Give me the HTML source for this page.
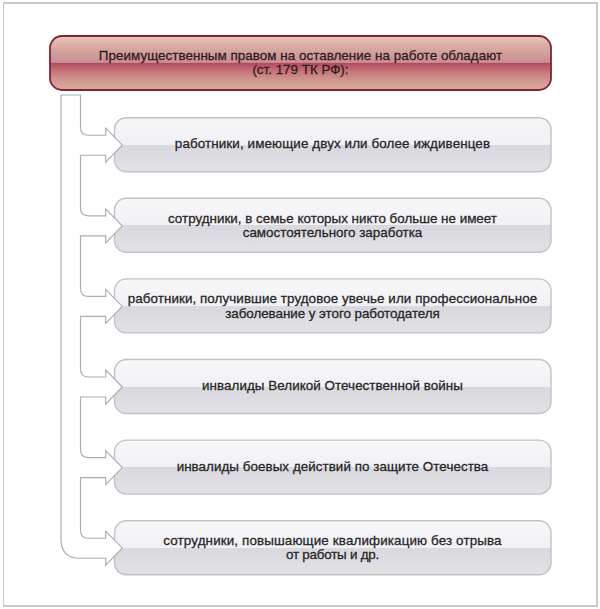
<!DOCTYPE html>
<html><head><meta charset="utf-8"><style>
html,body{margin:0;padding:0;background:#fff;}
body{width:600px;height:609px;overflow:hidden;position:relative;font-family:"Liberation Sans",sans-serif;}
svg{position:absolute;left:0;top:0}
.frame{position:absolute;left:3px;top:2px;width:592px;height:601px;border-style:solid;border-color:#c8cac8;border-width:2px 2px 2px 1px;}
.bt{position:absolute;left:114px;width:437px;height:54px;display:flex;align-items:center;justify-content:center;text-align:center;font-size:13.4px;line-height:14px;color:#262626;-webkit-text-stroke:0.28px #262626;}
.ht{position:absolute;left:50px;top:36px;width:501px;height:54px;display:flex;align-items:center;justify-content:center;text-align:center;font-size:13.4px;line-height:14px;color:#2e1c20;-webkit-text-stroke:0.28px #2e1c20;}
</style></head><body>
<div class="frame"></div>
<svg width="600" height="609" viewBox="0 0 600 609">
<defs>
<linearGradient id="g" x1="0" y1="0" x2="0" y2="1">
<stop offset="0" stop-color="#f7f6f9"/>
<stop offset="0.5" stop-color="#f1f0f4"/>
<stop offset="0.5" stop-color="#d9d8de"/>
<stop offset="1" stop-color="#e2e1e6"/>
</linearGradient>
<linearGradient id="h" x1="0" y1="0" x2="0" y2="1">
<stop offset="0" stop-color="#eccac2"/>
<stop offset="0.05" stop-color="#e6c0b6"/>
<stop offset="0.15" stop-color="#dcb0a4"/>
<stop offset="0.27" stop-color="#d4a49e"/>
<stop offset="0.49" stop-color="#cc8c94"/>
<stop offset="0.5" stop-color="#b04a5a"/>
<stop offset="0.56" stop-color="#bc5a68"/>
<stop offset="0.68" stop-color="#c87a80"/>
<stop offset="0.85" stop-color="#d49c94"/>
<stop offset="1" stop-color="#dca89c"/>
</linearGradient>
</defs>
<rect x="50" y="36" width="501" height="54" rx="12" fill="url(#h)" stroke="#7e2636" stroke-width="1.8"/>
<rect x="114.5" y="117.70" width="436.5" height="54" rx="12" fill="url(#g)" stroke="#c2c2c2" stroke-width="1.4"/>
<rect x="114.5" y="198.30" width="436.5" height="54" rx="12" fill="url(#g)" stroke="#c2c2c2" stroke-width="1.4"/>
<rect x="114.5" y="278.90" width="436.5" height="54" rx="12" fill="url(#g)" stroke="#c2c2c2" stroke-width="1.4"/>
<rect x="114.5" y="359.50" width="436.5" height="54" rx="12" fill="url(#g)" stroke="#c2c2c2" stroke-width="1.4"/>
<rect x="114.5" y="440.10" width="436.5" height="54" rx="12" fill="url(#g)" stroke="#c2c2c2" stroke-width="1.4"/>
<rect x="114.5" y="520.70" width="436.5" height="54" rx="12" fill="url(#g)" stroke="#c2c2c2" stroke-width="1.4"/>

<path d="M61.0,95.0 L80.5,95.0 L80.5,127.20 Q80.5,135.20 88.5,135.20 L105.7,135.20 L105.7,128.20 L122.3,145.20 L105.7,162.20 L105.7,155.20 L80.5,155.20 L80.5,207.80 Q80.5,215.80 88.5,215.80 L105.7,215.80 L105.7,208.80 L122.3,225.80 L105.7,242.80 L105.7,235.80 L80.5,235.80 L80.5,288.40 Q80.5,296.40 88.5,296.40 L105.7,296.40 L105.7,289.40 L122.3,306.40 L105.7,323.40 L105.7,316.40 L80.5,316.40 L80.5,369.00 Q80.5,377.00 88.5,377.00 L105.7,377.00 L105.7,370.00 L122.3,387.00 L105.7,404.00 L105.7,397.00 L80.5,397.00 L80.5,449.60 Q80.5,457.60 88.5,457.60 L105.7,457.60 L105.7,450.60 L122.3,467.60 L105.7,484.60 L105.7,477.60 L80.5,477.60 L80.5,530.20 Q80.5,538.20 88.5,538.20 L105.7,538.20 L105.7,531.20 L122.3,548.20 L105.7,565.20 L105.7,558.20 L80.0,558.20 Q61.0,558.20 61.0,539.20 Z" fill="#fff" stroke="#adadad" stroke-width="1.15" stroke-linejoin="miter"/>
</svg>
<div class="ht"><div><div style="letter-spacing:0.04px">Преимущественным правом на оставление на работе обладают</div><div>(ст. 179 ТК РФ):</div></div></div>
<div class="bt" style="top:117.2px;"><div><div style="letter-spacing:0.11px;white-space:nowrap">работники, имеющие двух или более иждивенцев</div></div></div>
<div class="bt" style="top:198.8px;"><div><div style="letter-spacing:0.0px;white-space:nowrap">сотрудники, в семье которых никто больше не имеет</div><div style="letter-spacing:0.0px;white-space:nowrap">самостоятельного заработка</div></div></div>
<div class="bt" style="top:279.4px;line-height:15px;"><div><div style="letter-spacing:0.08px;white-space:nowrap">работники, получившие трудовое увечье или профессиональное</div><div style="letter-spacing:-0.05px;white-space:nowrap">заболевание у этого работодателя</div></div></div>
<div class="bt" style="top:359.0px;"><div><div style="letter-spacing:0.05px;white-space:nowrap">инвалиды Великой Отечественной войны</div></div></div>
<div class="bt" style="top:439.6px;"><div><div style="letter-spacing:0.05px;white-space:nowrap">инвалиды боевых действий по защите Отечества</div></div></div>
<div class="bt" style="top:521.2px;"><div><div style="letter-spacing:0.13px;white-space:nowrap">сотрудники, повышающие квалификацию без отрыва</div><div style="letter-spacing:-0.22px;white-space:nowrap">от работы и др.</div></div></div>

</body></html>
